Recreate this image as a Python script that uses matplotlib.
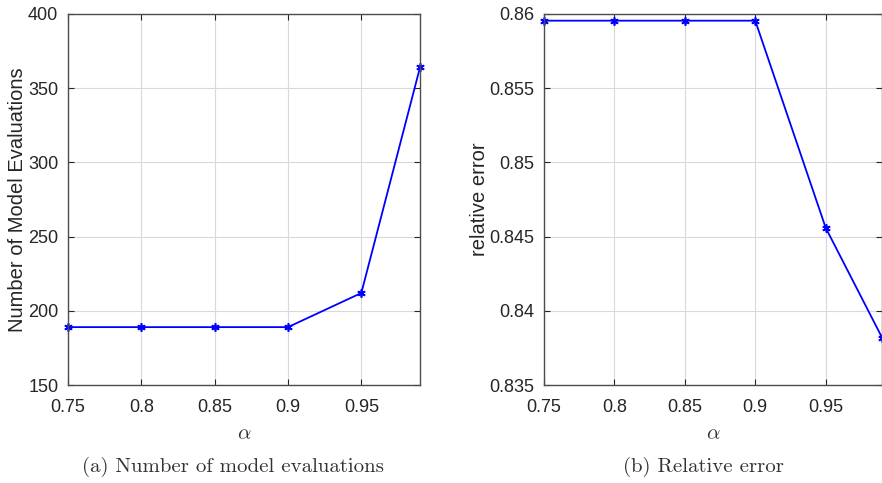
import matplotlib
matplotlib.use("Agg")
import matplotlib.pyplot as plt

alpha = [0.75, 0.80, 0.85, 0.90, 0.95, 0.99]
n_evals = [189, 189, 189, 189, 212, 364]
rel_error = [0.85955, 0.85955, 0.85955, 0.85955, 0.8456, 0.8382]

x_ticks = [0.75, 0.8, 0.85, 0.9, 0.95]
x_ticklabels = ["0.75", "0.8", "0.85", "0.9", "0.95"]
y1_ticks = [150, 200, 250, 300, 350, 400]
y2_ticks = [0.835, 0.84, 0.845, 0.85, 0.855, 0.86]
y2_ticklabels = ["0.835", "0.84", "0.845", "0.85", "0.855", "0.86"]

plt.rcParams['font.family'] = ['Liberation Sans', 'DejaVu Sans']
plt.rcParams['mathtext.fontset'] = 'cm'

fig = plt.figure(figsize=(8.82, 4.83), dpi=100)
W, H = 882, 483

def make_ax(x0, x1, y0, y1):
    return fig.add_axes([x0 / W, 1 - y1 / H, (x1 - x0) / W, (y1 - y0) / H])

ax1 = make_ax(68, 420, 14, 385)
ax2 = make_ax(544, 882, 14, 385)

edge = '#262626'
for ax in (ax1, ax2):
    ax.grid(True, color='#d9d9d9', linewidth=0.8)
    ax.set_axisbelow(True)
    ax.tick_params(direction='in', top=True, right=True, length=4, width=0.8,
                   colors=edge, labelsize=13, labelcolor='#262626', pad=7)
    ax.tick_params(axis='x', pad=10)
    for s in ax.spines.values():
        s.set_color('#4d4d4d')
        s.set_linewidth(1.0)
    ax.set_xlim(0.75, 0.99)
    ax.set_xticks(x_ticks)
    ax.set_xticklabels(x_ticklabels)
    ax.set_xlabel(r'$\alpha$', fontsize=15, color='#333333', labelpad=6)

ax1.plot(alpha, n_evals, color='#0000ff', linewidth=1.3, marker=(6, 2, 0),
         markersize=6, markeredgewidth=1.2, clip_on=False)
ax1.set_ylim(150, 400)
ax1.set_yticks(y1_ticks)
ax1.set_ylabel('Number of Model Evaluations', fontsize=14.5, color='#262626', labelpad=1)

ax2.plot(alpha, rel_error, color='#0000ff', linewidth=1.3, marker=(6, 2, 0),
         markersize=6, markeredgewidth=1.2, clip_on=False)
ax2.set_ylim(0.835, 0.86)
ax2.set_yticks(y2_ticks)
ax2.set_yticklabels(y2_ticklabels)
ax2.set_ylabel('relative error', fontsize=14.5, color='#262626', labelpad=0)

fig.text(233 / W, 1 - 467 / H, '(a) Number of model evaluations', fontfamily='cmr10',
         fontsize=15, ha='center', va='center', color='#333333')
fig.text(703 / W, 1 - 467 / H, '(b) Relative error', fontfamily='cmr10',
         fontsize=15, ha='center', va='center', color='#333333')

fig.savefig('out.png', dpi=100)
